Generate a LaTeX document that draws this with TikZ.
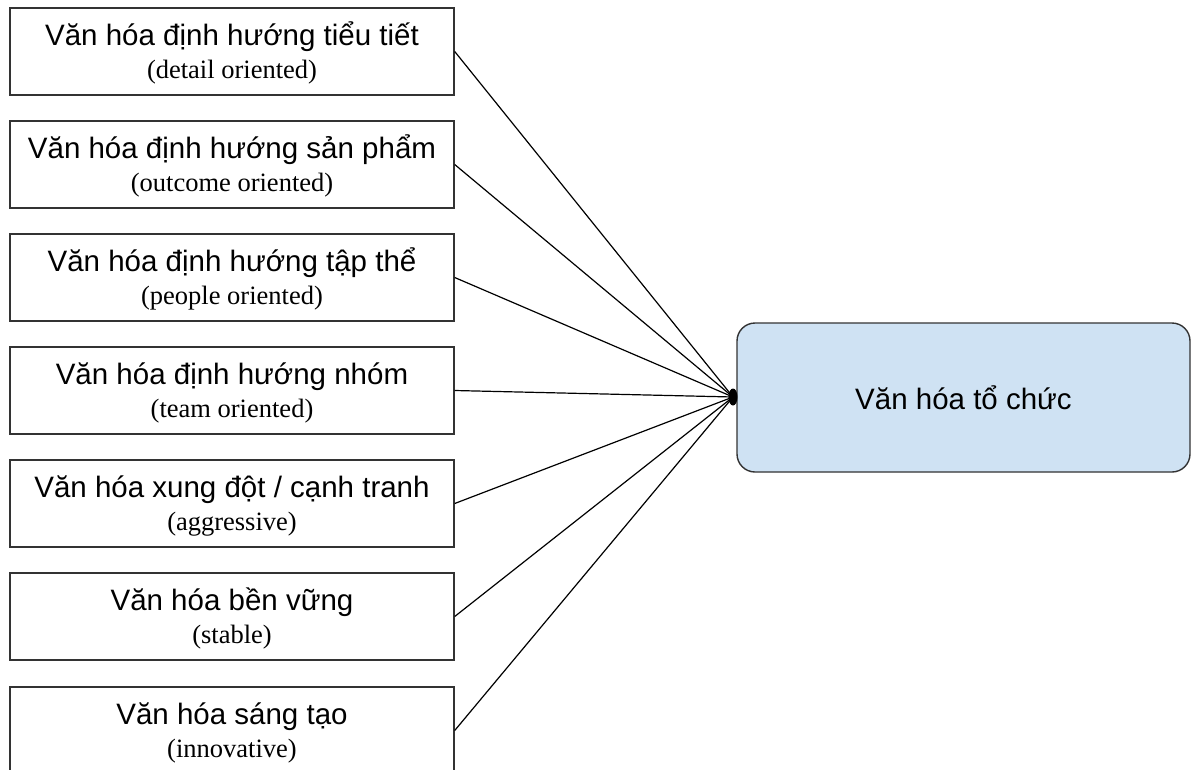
\documentclass[tikz,border=0pt]{standalone}
\usepackage{fontspec}
\setmainfont{Liberation Serif}
\setsansfont{Liberation Sans}
\definecolor{boxline}{HTML}{333333}
\definecolor{hubfill}{HTML}{CFE2F3}
\begin{document}
\begin{tikzpicture}[x=1pt,y=-1pt,
  leftbox/.style={draw=boxline, line width=1.4pt, minimum width=444pt, minimum height=87pt, inner sep=0pt, fill=white},
  titletext/.style={anchor=base, inner sep=0pt, font=\sffamily\fontsize{29.5}{33}\selectfont},
  subtext/.style={anchor=base, inner sep=0pt, font=\rmfamily\fontsize{26.5}{30}\selectfont},
  mainbox/.style={draw=boxline, line width=1.4pt, fill=hubfill, rounded corners=18pt, minimum width=453pt, minimum height=149pt, inner sep=0pt, font=\sffamily\fontsize{29.5}{33}\selectfont},
  link/.style={draw=black, line width=1.2pt}]
\useasboundingbox (0,0) rectangle (1194,769);
\clip (0,0) rectangle (1194,769);
\fill[white] (0,0) rectangle (1194,769);

\node[mainbox] (main) at (963.5,397.5) {Văn hóa tổ chức};
\coordinate (hub) at (733,397);

\foreach \i/\top/\ttl/\sub in {
  1/8/{Văn hóa định hướng tiểu tiết}/{(detail oriented)},
  2/121/{Văn hóa định hướng sản phẩm}/{(outcome oriented)},
  3/234/{Văn hóa định hướng tập thể}/{(people oriented)},
  4/347/{Văn hóa định hướng nhóm}/{(team oriented)},
  5/460/{Văn hóa xung đột / cạnh tranh}/{(aggressive)},
  6/573/{Văn hóa bền vững}/{(stable)},
  7/687/{Văn hóa sáng tạo}/{(innovative)}}{
  \node[leftbox] (b\i) at (232,\top+43.5) {};
  \node[titletext] (t\i) at (232,\top+37) {\ttl};
  \node[subtext] (s\i) at (232,\top+70) {\sub};
  \draw[link] (b\i.east) -- (hub);
}
\fill[black] (hub) ellipse [x radius=4.5pt, y radius=8.5pt];
\end{tikzpicture}
\end{document}
